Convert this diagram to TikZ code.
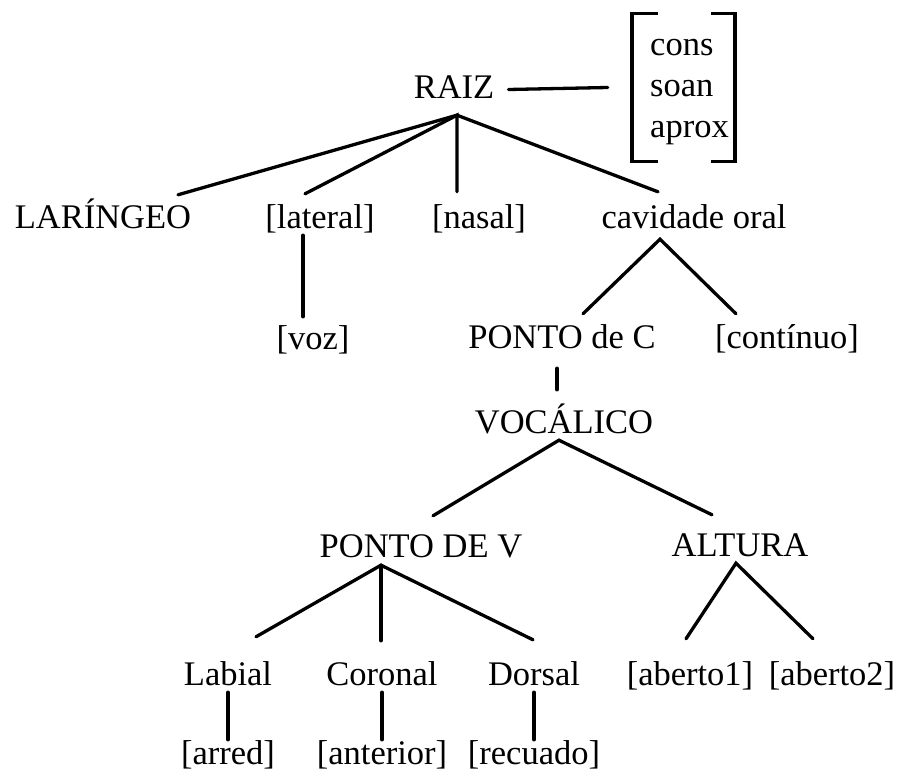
\documentclass[tikz,border=0pt]{standalone}
\usepackage{fontspec}
\setmainfont{Liberation Serif}
\usetikzlibrary{calc, fit}

\begin{document}
\begin{tikzpicture}[x=1pt, y=-1pt, lbl/.style={anchor=base, inner sep=0pt, text height=24pt, text depth=7pt, font=\fontsize{34.5}{41}\selectfont}, edge/.style={line width=3.3pt, line cap=round}, brk/.style={line width=3.6pt}]
  \useasboundingbox (0,0) rectangle (898,771);

  \node[lbl] (raiz) at (454,98) {RAIZ};
  \node[lbl, anchor=base west] (cons) at (650,55) {cons};
  \node[lbl, anchor=base west] (soan) at (650,96) {soan};
  \node[lbl, anchor=base west] (aprox) at (650,137) {aprox};
  \node[fit = (cons) (soan) (aprox), inner xsep=0pt, inner ysep=17pt] (feat) {};

  \node[lbl] (lar) at (103,228) {LARÍNGEO};
  \node[lbl] (lat) at (320,228) {[lateral]};
  \node[lbl] (nas) at (479,228) {[nasal]};
  \node[lbl] (cav) at (694,228) {cavidade oral};

  \node[lbl] (voz) at (313,349) {[voz]};
  \node[lbl] (pdc) at (562,348) {PONTO de C};
  \node[lbl] (cont) at (787,348) {[contínuo]};
  \node[lbl] (voc) at (564,433) {VOCÁLICO};

  \node[lbl] (pdv) at (421,557) {PONTO DE V};
  \node[lbl] (alt) at (740,556) {ALTURA};

  \node[lbl] (lab) at (228,685) {Labial};
  \node[lbl] (cor) at (382,685) {Coronal};
  \node[lbl] (dor) at (534,685) {Dorsal};
  \node[lbl] (ab1) at (690,685) {[aberto1]};
  \node[lbl] (ab2) at (832,685) {[aberto2]};

  \node[lbl] (arr) at (228,764) {[arred]};
  \node[lbl] (ant) at (382,764) {[anterior]};
  \node[lbl] (rec) at (534,764) {[recuado]};

  \draw[brk] ($(feat.north west)+(8,0)$) -- ($(feat.north west)+(-18,0)$) -- ($(feat.south west)+(-18,0)$) -- ($(feat.south west)+(8,0)$);
  \draw[brk] ($(feat.north east)+(-18,0)$) -- ($(feat.north east)+(6,0)$) -- ($(feat.south east)+(6,0)$) -- ($(feat.south east)+(-18,0)$);
  \draw[edge] ($(raiz.east)+(14,0)$) -- ($(feat.west)+(-42,0)$);

  \draw[edge] ($(lar.north)+(75,-9)$) -- ($(raiz.south)+(3,10)$) -- ($(cav.north)+(-36,-12)$);
  \draw[edge] ($(lat.north)+(-15,-10)$) -- ($(raiz.south)+(3,10)$) -- ($(nas.north)+(-22,-12)$);
  \draw[edge] ($(lat.south)+(-17,0)$) -- ($(voz.north)+(-10,-8)$);
  \draw[edge] ($(pdc.north)+(21,-10)$) -- ($(cav.south)+(-34,4)$) -- ($(cont.north)+(-51,-10)$);
  \draw[edge] ($(pdc.south)+(-5,13)$) -- ($(voc.north)+(-7,-19)$);
  \draw[edge] ($(pdv.north)+(12,-17)$) -- ($(voc.south)+(-5,0)$) -- ($(alt.north)+(-28,-17)$);
  \draw[edge] ($(lab.north)+(28,-24)$) -- ($(pdv.south)+(-40,1)$) -- ($(dor.north)+(-1,-21)$);
  \draw[edge] ($(pdv.south)+(-40,1)$) -- ($(cor.north)+(-1,-20)$);
  \draw[edge] ($(ab1.north)+(-4,-22)$) -- ($(alt.south)+(-4,0)$) -- ($(ab2.north)+(-19,-22)$);
  \draw[edge] (lab.south) -- (arr.north);
  \draw[edge] (cor.south) -- (ant.north);
  \draw[edge] (dor.south) -- (rec.north);
\end{tikzpicture}
\end{document}
